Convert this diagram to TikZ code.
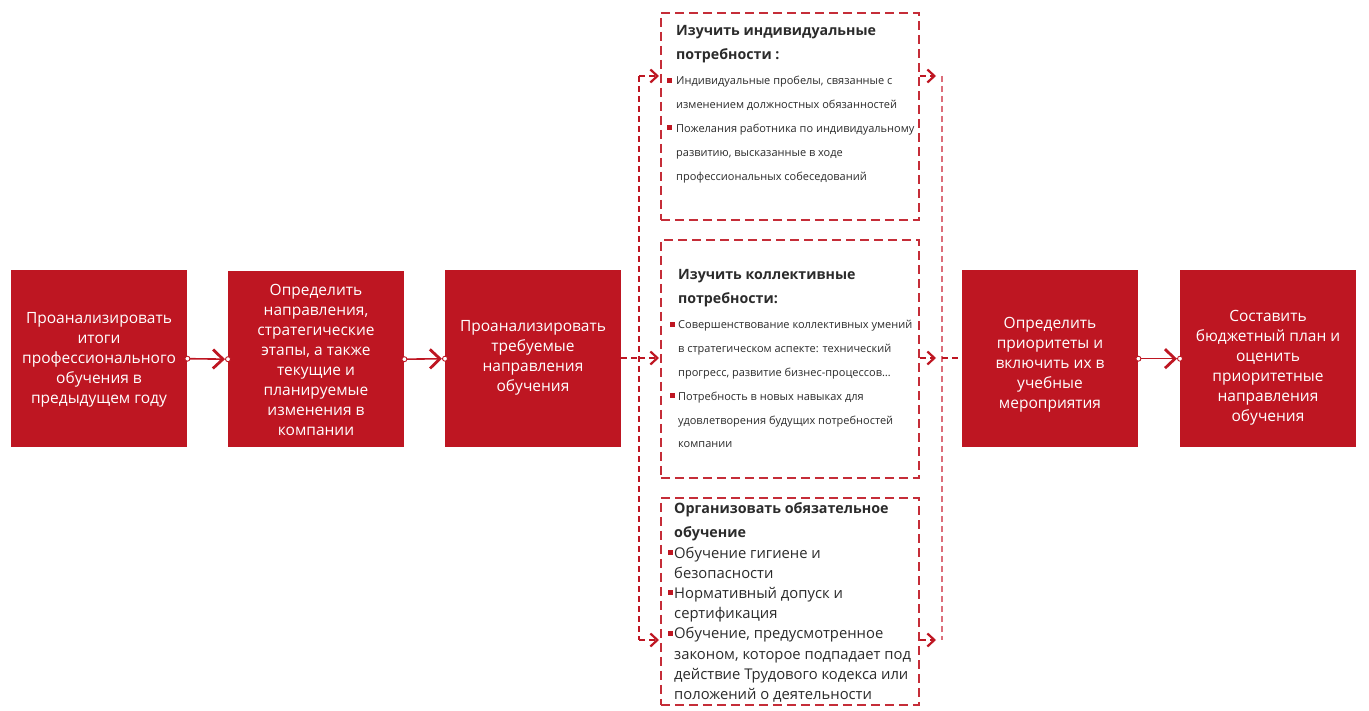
\documentclass[tikz,border=0pt]{standalone}
\usepackage{fontspec}
\setmainfont{Open Sans}
\usetikzlibrary{arrows.meta}
\definecolor{brand}{HTML}{BE1622}
\definecolor{ink}{HTML}{2B2B2B}
\definecolor{pale}{HTML}{DC6E7A}
\newcommand{\plines}[1]{\parbox[t]{250pt}{\raggedright #1}}
\tikzset{
  redbox/.style={fill=brand, draw=none, minimum width=176pt, minimum height=177pt, inner sep=0pt, anchor=north west},
  boxtext/.style={text=white, align=center, inner sep=0pt, font=\fontsize{15.5}{20}\selectfont},
  dashbox/.style={draw=brand!90!white, line width=1.9pt, dash pattern=on 9pt off 5pt, fill=white, inner sep=0pt, anchor=north west, minimum width=258pt},
  titlesmall/.style={text=ink, inner sep=0pt, anchor=base west, font=\fontsize{14.2}{24}\selectfont\bfseries},
  itemsmall/.style={text=ink, inner sep=0pt, anchor=base west, font=\fontsize{11}{23.8}\selectfont},
  titlebig/.style={text=ink, inner sep=0pt, anchor=base west, font=\fontsize{14.3}{24}\selectfont\bfseries},
  itembig/.style={text=ink, inner sep=0pt, anchor=base west, font=\fontsize{14.8}{20.2}\selectfont},
  bullet/.style={fill=brand, draw=none, minimum size=5pt, inner sep=0pt},
  solidconn/.style={draw=brand, line width=1.6pt, shorten >=3pt, -{Straight Barb[length=10pt,width=19pt,line width=2.8pt]}},
  endring/.style={draw=brand, fill=white, line width=0.9pt, circle, minimum size=5pt, inner sep=0pt},
  dashconn/.style={draw=brand, line width=1.4pt, dash pattern=on 6pt off 4pt},
  dasharrow/.style={dashconn, -{Straight Barb[length=7pt,width=13pt,line width=2.2pt]}},
  paleconn/.style={draw=pale, line width=1.4pt, dash pattern=on 6pt off 4pt},
}
\begin{document}
\begin{tikzpicture}[x=1pt,y=-1pt]
\useasboundingbox (0,0) rectangle (1369,711);

% red boxes
\node[redbox] (b1) at (11,270) {};
\node[redbox, minimum height=176pt] (b2) at (228,271) {};
\node[redbox] (b3) at (445,270) {};
\node[redbox] (b4) at (962,270) {};
\node[redbox] (b5) at (1180,270) {};

\node[boxtext] (t1) at (99,360) {Проанализировать\\итоги\\профессионального\\обучения в\\предыдущем году};
\node[boxtext] (t2) at (316,360) {Определить\\направления,\\стратегические\\этапы, а также\\текущие и\\планируемые\\изменения в\\компании};
\node[boxtext] (t3) at (533,358) {Проанализировать\\требуемые\\направления\\обучения};
\node[boxtext] (t4) at (1050,365) {Определить\\приоритеты и\\включить их в\\учебные\\мероприятия};
\node[boxtext] (t5) at (1268,368) {Составить\\бюджетный план и\\оценить\\приоритетные\\направления\\обучения};

% dashed boxes
\node[dashbox, minimum height=207pt] (d1) at (660,12) {};
\node[dashbox, minimum height=238pt] (d2) at (660,239) {};
\node[dashbox, minimum height=207pt] (d3) at (660,497) {};

% box 1 text
\node[titlesmall] (d1t) at (676,36) {\plines{Изучить индивидуальные\\потребности :}};
\node[itemsmall] (d1i) at (676,85) {\plines{Индивидуальные пробелы, связанные с\\изменением должностных обязанностей\\Пожелания работника по индивидуальному\\развитию, высказанные в ходе\\профессиональных собеседований}};
\node[bullet] (d1b1) at (669.5,80.5) {};
\node[bullet] (d1b2) at (669.5,127.5) {};

% box 2 text
\node[titlesmall] (d2t) at (678,280) {\plines{Изучить коллективные\\потребности:}};
\node[itemsmall] (d2i) at (678,329) {\plines{Совершенствование коллективных умений\\в стратегическом аспекте: технический\\прогресс, развитие бизнес-процессов…\\Потребность в новых навыках для\\удовлетворения будущих потребностей\\компании}};
\node[bullet] (d2b1) at (672,324.5) {};
\node[bullet] (d2b2) at (672,395.5) {};

% box 3 text
\node[titlebig] (d3t) at (674,513) {\plines{Организовать обязательное\\обучение}};
\node[itembig] (d3i) at (674,558) {\plines{Обучение гигиене и\\безопасности\\Нормативный допуск и\\сертификация\\Обучение, предусмотренное\\законом, которое подпадает под\\действие Трудового кодекса или\\положений о деятельности}};
\node[bullet] (d3b1) at (670.5,552) {};
\node[bullet] (d3b2) at (670.5,592.5) {};
\node[bullet] (d3b3) at (670.5,633) {};

% solid connectors
\draw[solidconn] (b1.east) -- (b2.west);
\draw[solidconn] (b2.east) -- (b3.west);
\draw[solidconn] (b4.east) -- (b5.west);
\foreach \n in {b1.east,b2.west,b2.east,b3.west,b4.east,b5.west}
  \node[endring] at (\n) {};

% branch coordinates
\coordinate (lt) at (639,76);
\coordinate (lm) at (639,358);
\coordinate (lb) at (639,640);
\coordinate (rt) at (942,76);
\coordinate (rm) at (942,358);
\coordinate (rb) at (942,640);

% left branching
\draw[dashconn] (b3.east |- lm) -- (lm);
\draw[dashconn] (lt) -- (lb);
\draw[dasharrow, shorten >=1pt] (lt) -- (d1.west |- lt);
\draw[dasharrow, shorten >=1pt] (lm) -- (d2.west |- lm);
\draw[dasharrow, shorten >=1pt] (lb) -- (d3.west |- lb);

% right merging
\draw[paleconn] (rt) -- (rb);
\draw[dasharrow, shorten >=6pt] (d1.east |- rt) -- (rt);
\draw[dasharrow, shorten >=6pt] (d2.east |- rm) -- (rm);
\draw[dasharrow, shorten >=6pt] (d3.east |- rb) -- (rb);
\draw[dashconn] (rm) -- (b4.west |- rm);
\end{tikzpicture}
\end{document}
